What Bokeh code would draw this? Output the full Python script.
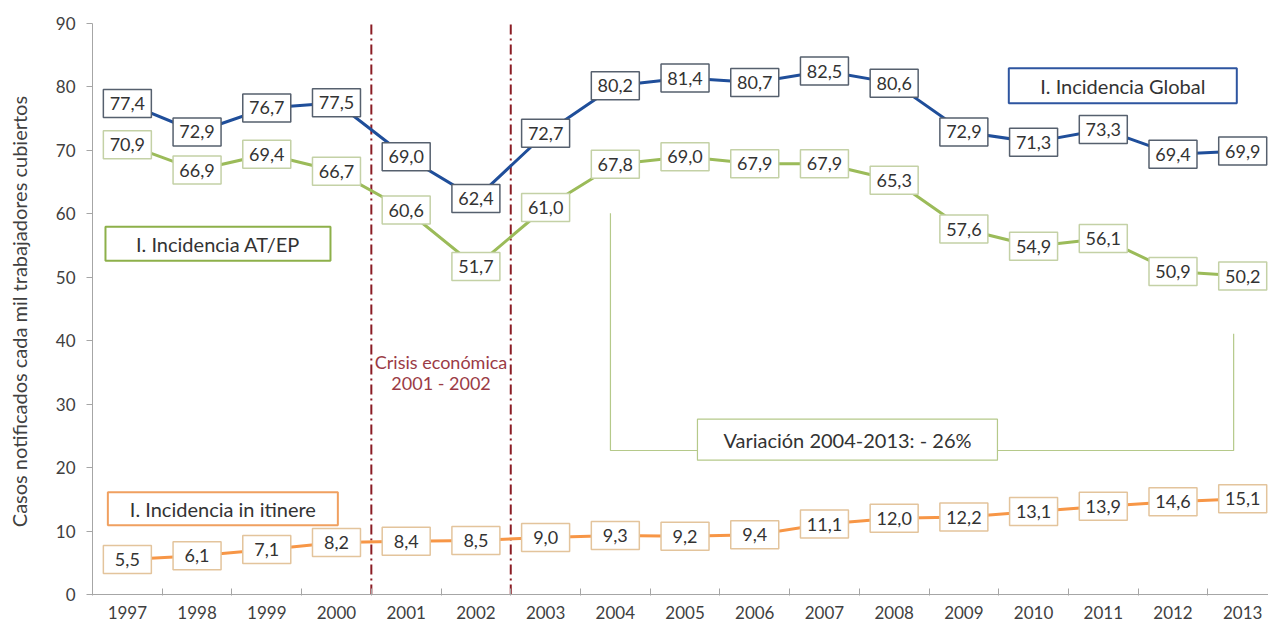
from bokeh.plotting import figure
from bokeh.models import Range1d, FixedTicker, ColumnDataSource
from bokeh.core.properties import value
from bokeh.embed import file_html
from bokeh.resources import INLINE

years = [1997, 1998, 1999, 2000, 2001, 2002, 2003, 2004, 2005, 2006, 2007, 2008, 2009, 2010, 2011, 2012, 2013]
global_inc = [77.4, 72.9, 76.7, 77.5, 69.0, 62.4, 72.7, 80.2, 81.4, 80.7, 82.5, 80.6, 72.9, 71.3, 73.3, 69.4, 69.9]
atep_inc = [70.9, 66.9, 69.4, 66.7, 60.6, 51.7, 61.0, 67.8, 69.0, 67.9, 67.9, 65.3, 57.6, 54.9, 56.1, 50.9, 50.2]
itinere_inc = [5.5, 6.1, 7.1, 8.2, 8.4, 8.5, 9.0, 9.3, 9.2, 9.4, 11.1, 12.0, 12.2, 13.1, 13.9, 14.6, 15.1]
y_ticks = [0, 10, 20, 30, 40, 50, 60, 70, 80, 90]
crisis_years = [2001, 2002]
variation_years = [2004, 2013]
y_title = "Casos notificados cada mil  trabajadores cubiertos"

FONT = "Lato"
xs = list(range(len(years)))

p = figure(width=1268, height=622, output_backend="svg", toolbar_location=None,
           x_range=Range1d(-0.5, 16.37), y_range=Range1d(0, 90),
           min_border_left=92, min_border_right=0, min_border_top=23, min_border_bottom=28)
p.outline_line_color = None
p.grid.grid_line_color = None
p.background_fill_color = "white"

# axes
p.xaxis.ticker = FixedTicker(ticks=xs, minor_ticks=[i - 0.5 for i in range(len(years) + 1)])
p.xaxis.major_label_overrides = {i: str(y) for i, y in enumerate(years)}
p.xaxis.major_tick_line_color = None
p.xaxis.minor_tick_line_color = "#a6a6a6"
p.xaxis.minor_tick_in = 6
p.xaxis.minor_tick_out = 1
p.xaxis.axis_line_color = "#a6a6a6"
p.xaxis.major_label_standoff = 5
p.yaxis.ticker = FixedTicker(ticks=y_ticks, minor_ticks=[])
p.yaxis.major_tick_in = 0
p.yaxis.major_tick_out = 6
p.yaxis.major_tick_line_color = "#a6a6a6"
p.yaxis.axis_line_color = "#a6a6a6"
p.yaxis.major_label_standoff = 11
p.yaxis.axis_label = y_title
p.yaxis.axis_label_text_font_style = "normal"
p.yaxis.axis_label_text_font = FONT
p.yaxis.axis_label_text_font_size = "20px"
p.yaxis.axis_label_text_color = "#404040"
p.yaxis.axis_label_standoff = 22
for ax in (p.xaxis, p.yaxis):
    ax.major_label_text_font = FONT
    ax.major_label_text_font_size = "17px"
    ax.major_label_text_color = "#404040"

# crisis lines
for cy in crisis_years:
    i = years.index(cy)
    bx = i - 0.5 if cy == crisis_years[0] else i + 0.5
    p.line([bx, bx], [0, 90], line_color="#8b1c24", line_width=2, line_dash="10 4 2 4")
cx = (years.index(crisis_years[0]) + years.index(crisis_years[1])) / 2
p.text([cx], [36.6], text=["Crisis económica"], text_align="center", text_baseline="middle",
       text_font=value(FONT), text_font_size="18px", text_color="#9b3b45")
p.text([cx], [33.3], text=[f"{crisis_years[0]} - {crisis_years[1]}"], text_align="center",
       text_baseline="middle", text_font=value(FONT), text_font_size="18px", text_color="#9b3b45")

# variation bracket
vx0 = years.index(variation_years[0]) - 0.07
vx1 = years.index(variation_years[1]) - 0.13
br = "#b5c98a"
p.line([vx0, vx0, vx1, vx1], [60.1, 22.7, 22.7, 41.1], line_color=br, line_width=1.2)
vmid = 10.33
p.rect([vmid], [24.4], width=300, height=41, width_units="screen", height_units="screen",
       fill_color="white", line_color=br, line_width=1.2)
p.text([vmid], [24.4], text=["Variación 2004-2013: - 26%"], text_align="center", text_baseline="middle",
       text_font=value(FONT), text_font_size="20px", text_color="#333333")

series = [
    (global_inc, "#1f4e9a", "#56606e"),
    (atep_inc, "#9bbb59", "#c4d1a6"),
    (itinere_inc, "#f79646", "#e3c49c"),
]
for vals, lc, bc in series:
    src = ColumnDataSource(dict(x=xs, y=vals, t=[f"{v:.1f}".replace(".", ",") for v in vals]))
    p.line("x", "y", source=src, line_color=lc, line_width=3)
    p.rect("x", "y", source=src, width=48, height=28, width_units="screen", height_units="screen",
           fill_color="white", line_color=bc, line_width=1.5)
    p.text("x", "y", text="t", source=src, text_align="center", text_baseline="middle",
           text_font=value(FONT), text_font_size="18px", text_color="#333333")

# series name boxes
names = [
    ("I. Incidencia Global", 14.28, 80.2, 228, 35, "#2e55a0"),
    ("I. Incidencia AT/EP", 1.30, 55.3, 225, 34, "#8db04a"),
    ("I. Incidencia in itinere", 1.37, 13.5, 230, 33, "#f0a060"),
]
for name, nx, ny, w, h, col in names:
    p.rect([nx], [ny], width=w, height=h, width_units="screen", height_units="screen",
           fill_color="white", line_color=col, line_width=2)
    p.text([nx], [ny], text=[name], text_align="center", text_baseline="middle",
           text_font=value(FONT), text_font_size="20px", text_color="#333333")

open("out.html", "w").write(file_html(p, INLINE))
